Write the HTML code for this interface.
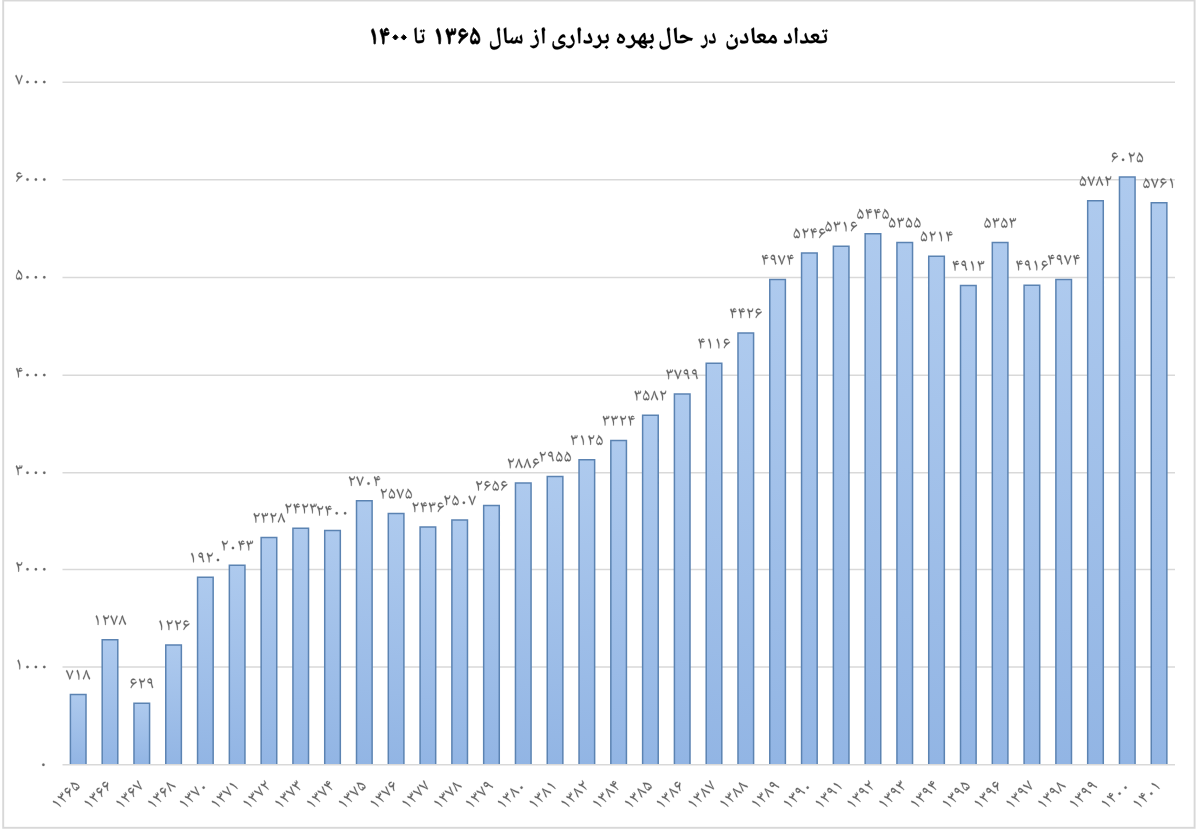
<!DOCTYPE html><html><head><meta charset="utf-8"><title>chart</title><style>html,body{margin:0;padding:0;background:#fff;width:1200px;height:833px;overflow:hidden;font-family:"Liberation Sans",sans-serif}svg{display:block}</style></head><body>
<svg width="1200" height="833" viewBox="0 0 1200 833">
<defs>
<linearGradient id="bf" x1="0" y1="0" x2="0" y2="1"><stop offset="0" stop-color="#aecaee"/><stop offset="1" stop-color="#92b5e4"/></linearGradient>
<path id="g0" d="M152.5 145A72 72 0 1 0 296.5 145A72 72 0 1 0 152.5 145Z"/>
<path id="g1" d="M281 0 243 9Q242 78 238 128Q235 179 227 222Q219 266 204 313Q194 349 178 387Q161 425 140 466Q132 479 132 495Q132 515 146 534Q161 553 186 568Q219 509 244 442Q268 374 282 309Q295 244 295 191Q295 142 292 94Q288 47 281 0Z"/>
<path id="g2" d="M216 0 178 9Q177 103 169 172Q161 240 145 296Q132 341 115 382Q98 423 75 466Q67 482 67 495Q67 515 82 535Q96 555 121 568Q136 542 148 516Q161 490 171 461Q210 437 268 437Q312 437 336 470Q361 502 367 567L407 559Q407 501 396 460Q386 418 364 392Q347 373 323 363Q299 353 269 353Q230 353 203 365Q212 329 218 298Q224 266 227 240Q230 213 230 191Q230 160 229 134Q228 107 225 76Q222 45 216 0Z"/>
<path id="g3" d="M187 0 149 9Q149 74 146 122Q142 169 134 212Q126 255 112 303Q105 327 96 353Q86 379 74 408Q61 436 46 466Q38 479 38 495Q38 515 52 534Q66 553 92 568Q106 541 120 512Q133 484 144 455Q168 437 200 437Q256 437 256 512Q256 523 256 534Q255 546 253 558L283 568Q291 542 294 520Q297 497 297 474Q305 471 312 470Q320 468 326 468Q370 468 370 538Q370 547 370 554Q369 562 368 566L409 562Q411 546 412 533Q413 520 413 509Q413 454 388 420Q364 385 327 385Q303 385 279 399Q269 379 251 366Q233 353 209 353Q202 353 193 354Q184 356 173 360Q186 313 192 270Q199 228 199 191Q199 142 196 94Q193 47 187 0Z"/>
<path id="g4" d="M202 0 164 9Q163 98 157 156Q151 214 138 263Q131 296 122 326Q112 355 98 388Q83 422 61 466Q53 481 53 496Q53 538 107 568Q126 534 142 499Q157 464 169 428Q181 421 196 417Q210 413 226 411Q202 429 202 460Q202 486 216 514Q230 542 252 559Q277 576 302 576Q343 576 389 511L366 488Q334 510 304 510Q291 510 279 506Q267 501 248 491Q248 459 269 441Q290 423 330 419Q350 425 370 433Q390 441 409 451Q415 433 415 419Q415 394 394 376Q374 357 340 348Q307 338 267 338Q230 338 192 350Q215 256 215 192Q215 146 212 98Q209 50 202 0Z"/>
<path id="g5" d="M159 7Q106 7 76 52Q47 97 47 178Q47 222 60 270Q73 319 100 371Q106 384 112 394Q118 404 129 422Q140 440 161 475Q154 488 154 511Q154 531 159 550Q164 569 174 585Q241 524 283 478Q325 432 349 394Q373 356 387 317Q407 257 407 190Q407 141 394 98Q380 56 355 31Q330 7 298 7Q277 7 258 16Q240 26 226 44Q213 26 196 16Q179 7 159 7ZM156 92Q180 92 194 110Q207 128 210 165L246 184Q246 141 260 116Q274 92 305 92Q331 92 349 114Q367 135 367 165Q367 200 346 246Q326 291 290 340Q253 390 203 436Q170 398 144 353Q117 308 102 264Q86 219 86 181Q86 146 106 119Q126 92 156 92Z"/>
<path id="g6" d="M89 0 60 48Q80 86 94 112Q109 139 122 160Q136 182 152 204Q169 225 191 252Q136 266 102 300Q68 335 68 378Q68 425 86 470Q105 514 137 540Q170 567 210 567Q244 567 275 551Q306 535 354 494L336 459Q306 471 290 476Q273 481 262 482Q251 483 236 483Q170 483 121 448Q121 373 185 345Q221 329 273 328Q291 341 311 352Q331 364 354 376Q377 387 403 399Q407 394 410 379Q414 364 414 355Q414 346 408 336Q401 325 388 314Q375 302 356 289Q311 259 276 231Q240 203 210 172Q181 140 152 98Q122 57 89 0Z"/>
<path id="g7" d="M204 0Q183 70 166 123Q149 176 132 219Q116 262 99 300Q82 339 62 380Q41 420 15 468Q9 479 9 490Q9 509 22 530Q36 550 58 566Q81 531 107 475Q133 419 158 354Q183 288 203 224Q223 159 233 108Q244 168 261 232Q278 297 299 360Q320 422 342 476Q364 529 385 566L427 494Q386 411 356 338Q325 264 302 192Q279 120 258 40Q242 27 228 18Q215 8 204 0Z"/>
<path id="g8" d="M51 0 8 71Q41 136 66 192Q90 247 110 300Q129 353 146 408Q162 463 178 526L232 566Q251 500 268 448Q285 396 302 352Q318 309 336 270Q353 230 374 188Q395 147 422 98Q427 86 427 76Q427 57 414 37Q401 17 378 0Q357 32 332 82Q308 133 285 192Q262 252 242 312Q229 352 219 390Q209 427 203 458Q192 396 175 332Q158 268 138 207Q117 146 95 93Q73 40 51 0Z"/>
<path id="g9" d="M345 -1Q321 62 306 111Q292 160 284 204Q277 248 275 294Q236 280 202 280Q144 280 106 318Q67 357 67 417Q67 454 88 495Q110 536 142 561Q174 585 208 585Q265 585 295 535Q325 485 325 375Q325 322 334 270Q342 219 360 168Q377 116 404 62ZM230 364Q239 364 250 366Q260 367 272 369L273 370Q267 434 244 466Q222 498 183 498Q166 498 149 488Q132 478 121 462Q110 447 110 430Q110 402 144 383Q177 364 230 364Z"/>
</defs>
<rect width="1200" height="833" fill="#fff"/>
<rect x="3.2" y="0.5" width="1191.4" height="827.3" fill="none" stroke="#d8d8d8" stroke-width="1.9"/>
<path d="M62.5 82.2H1175M62.5 179.65H1175M62.5 277.46H1175M62.5 375.2H1175M62.5 472.75H1175M62.5 569.4H1175M62.5 667H1175M62.5 764.85H1175" stroke="#d9d9d9" stroke-width="1.5" fill="none"/>
<g fill="url(#bf)"><rect x="70.4" y="694.46" width="15.6" height="69.54"/><rect x="102.19" y="639.87" width="15.6" height="124.13"/><rect x="133.98" y="703.13" width="15.6" height="60.87"/><rect x="165.77" y="644.93" width="15.6" height="119.07"/><rect x="197.56" y="577.28" width="15.6" height="186.72"/><rect x="229.35" y="565.29" width="15.6" height="198.71"/><rect x="261.14" y="537.51" width="15.6" height="226.49"/><rect x="292.93" y="528.25" width="15.6" height="235.75"/><rect x="324.72" y="530.49" width="15.6" height="233.51"/><rect x="356.51" y="500.85" width="15.6" height="263.15"/><rect x="388.3" y="513.43" width="15.6" height="250.57"/><rect x="420.09" y="526.98" width="15.6" height="237.02"/><rect x="451.88" y="520.06" width="15.6" height="243.94"/><rect x="483.67" y="505.53" width="15.6" height="258.47"/><rect x="515.46" y="483.11" width="15.6" height="280.89"/><rect x="547.25" y="476.38" width="15.6" height="287.62"/><rect x="579.04" y="459.81" width="15.6" height="304.19"/><rect x="610.83" y="440.41" width="15.6" height="323.59"/><rect x="642.62" y="415.26" width="15.6" height="348.74"/><rect x="674.41" y="394.11" width="15.6" height="369.89"/><rect x="706.2" y="363.21" width="15.6" height="400.79"/><rect x="737.99" y="332.99" width="15.6" height="431.01"/><rect x="769.78" y="279.56" width="15.6" height="484.44"/><rect x="801.57" y="253.05" width="15.6" height="510.95"/><rect x="833.36" y="246.23" width="15.6" height="517.77"/><rect x="865.15" y="233.65" width="15.6" height="530.35"/><rect x="896.94" y="242.42" width="15.6" height="521.58"/><rect x="928.73" y="256.17" width="15.6" height="507.83"/><rect x="960.52" y="285.51" width="15.6" height="478.49"/><rect x="992.31" y="242.62" width="15.6" height="521.38"/><rect x="1024.1" y="285.22" width="15.6" height="478.78"/><rect x="1055.89" y="279.56" width="15.6" height="484.44"/><rect x="1087.68" y="200.8" width="15.6" height="563.2"/><rect x="1119.47" y="177.11" width="15.6" height="586.89"/><rect x="1151.26" y="202.84" width="15.6" height="561.16"/></g>
<path d="M70.4 764V694.46H86V764M102.19 764V639.87H117.79V764M133.98 764V703.13H149.58V764M165.77 764V644.93H181.37V764M197.56 764V577.28H213.16V764M229.35 764V565.29H244.95V764M261.14 764V537.51H276.74V764M292.93 764V528.25H308.53V764M324.72 764V530.49H340.32V764M356.51 764V500.85H372.11V764M388.3 764V513.43H403.9V764M420.09 764V526.98H435.69V764M451.88 764V520.06H467.48V764M483.67 764V505.53H499.27V764M515.46 764V483.11H531.06V764M547.25 764V476.38H562.85V764M579.04 764V459.81H594.64V764M610.83 764V440.41H626.43V764M642.62 764V415.26H658.22V764M674.41 764V394.11H690.01V764M706.2 764V363.21H721.8V764M737.99 764V332.99H753.59V764M769.78 764V279.56H785.38V764M801.57 764V253.05H817.17V764M833.36 764V246.23H848.96V764M865.15 764V233.65H880.75V764M896.94 764V242.42H912.54V764M928.73 764V256.17H944.33V764M960.52 764V285.51H976.12V764M992.31 764V242.62H1007.91V764M1024.1 764V285.22H1039.7V764M1055.89 764V279.56H1071.49V764M1087.68 764V200.8H1103.28V764M1119.47 764V177.11H1135.07V764M1151.26 764V202.84H1166.86V764" fill="none" stroke="#5b83b2" stroke-width="1.5"/>
<g fill="#666666" stroke="#666666" stroke-width="12"><use href="#g7" transform="translate(65.93 679.66) scale(0.01725 -0.01725)"/><use href="#g1" transform="translate(74.33 679.66) scale(0.01725 -0.01725)"/><use href="#g8" transform="translate(82.73 679.66) scale(0.01725 -0.01725)"/><use href="#g1" transform="translate(93.52 625.07) scale(0.01725 -0.01725)"/><use href="#g2" transform="translate(101.92 625.07) scale(0.01725 -0.01725)"/><use href="#g7" transform="translate(110.32 625.07) scale(0.01725 -0.01725)"/><use href="#g8" transform="translate(118.72 625.07) scale(0.01725 -0.01725)"/><use href="#g6" transform="translate(129.51 688.33) scale(0.01725 -0.01725)"/><use href="#g2" transform="translate(137.91 688.33) scale(0.01725 -0.01725)"/><use href="#g9" transform="translate(146.31 688.33) scale(0.01725 -0.01725)"/><use href="#g1" transform="translate(157.1 630.13) scale(0.01725 -0.01725)"/><use href="#g2" transform="translate(165.5 630.13) scale(0.01725 -0.01725)"/><use href="#g2" transform="translate(173.9 630.13) scale(0.01725 -0.01725)"/><use href="#g6" transform="translate(182.3 630.13) scale(0.01725 -0.01725)"/><use href="#g1" transform="translate(188.89 562.48) scale(0.01725 -0.01725)"/><use href="#g9" transform="translate(197.29 562.48) scale(0.01725 -0.01725)"/><use href="#g2" transform="translate(205.69 562.48) scale(0.01725 -0.01725)"/><use href="#g0" transform="translate(214.09 562.48) scale(0.01725 -0.01725)"/><use href="#g2" transform="translate(220.68 550.49) scale(0.01725 -0.01725)"/><use href="#g0" transform="translate(229.08 550.49) scale(0.01725 -0.01725)"/><use href="#g4" transform="translate(237.48 550.49) scale(0.01725 -0.01725)"/><use href="#g3" transform="translate(245.88 550.49) scale(0.01725 -0.01725)"/><use href="#g2" transform="translate(252.47 522.71) scale(0.01725 -0.01725)"/><use href="#g3" transform="translate(260.87 522.71) scale(0.01725 -0.01725)"/><use href="#g2" transform="translate(269.27 522.71) scale(0.01725 -0.01725)"/><use href="#g8" transform="translate(277.67 522.71) scale(0.01725 -0.01725)"/><use href="#g2" transform="translate(284.26 513.45) scale(0.01725 -0.01725)"/><use href="#g4" transform="translate(292.66 513.45) scale(0.01725 -0.01725)"/><use href="#g2" transform="translate(301.06 513.45) scale(0.01725 -0.01725)"/><use href="#g3" transform="translate(309.46 513.45) scale(0.01725 -0.01725)"/><use href="#g2" transform="translate(316.05 515.69) scale(0.01725 -0.01725)"/><use href="#g4" transform="translate(324.45 515.69) scale(0.01725 -0.01725)"/><use href="#g0" transform="translate(332.85 515.69) scale(0.01725 -0.01725)"/><use href="#g0" transform="translate(341.25 515.69) scale(0.01725 -0.01725)"/><use href="#g2" transform="translate(347.84 486.05) scale(0.01725 -0.01725)"/><use href="#g7" transform="translate(356.24 486.05) scale(0.01725 -0.01725)"/><use href="#g0" transform="translate(364.64 486.05) scale(0.01725 -0.01725)"/><use href="#g4" transform="translate(373.04 486.05) scale(0.01725 -0.01725)"/><use href="#g2" transform="translate(379.63 498.63) scale(0.01725 -0.01725)"/><use href="#g5" transform="translate(388.03 498.63) scale(0.01725 -0.01725)"/><use href="#g7" transform="translate(396.43 498.63) scale(0.01725 -0.01725)"/><use href="#g5" transform="translate(404.83 498.63) scale(0.01725 -0.01725)"/><use href="#g2" transform="translate(411.42 512.18) scale(0.01725 -0.01725)"/><use href="#g4" transform="translate(419.82 512.18) scale(0.01725 -0.01725)"/><use href="#g3" transform="translate(428.22 512.18) scale(0.01725 -0.01725)"/><use href="#g6" transform="translate(436.62 512.18) scale(0.01725 -0.01725)"/><use href="#g2" transform="translate(443.21 505.26) scale(0.01725 -0.01725)"/><use href="#g5" transform="translate(451.61 505.26) scale(0.01725 -0.01725)"/><use href="#g0" transform="translate(460.01 505.26) scale(0.01725 -0.01725)"/><use href="#g7" transform="translate(468.41 505.26) scale(0.01725 -0.01725)"/><use href="#g2" transform="translate(475 490.73) scale(0.01725 -0.01725)"/><use href="#g6" transform="translate(483.4 490.73) scale(0.01725 -0.01725)"/><use href="#g5" transform="translate(491.8 490.73) scale(0.01725 -0.01725)"/><use href="#g6" transform="translate(500.2 490.73) scale(0.01725 -0.01725)"/><use href="#g2" transform="translate(506.79 468.31) scale(0.01725 -0.01725)"/><use href="#g8" transform="translate(515.19 468.31) scale(0.01725 -0.01725)"/><use href="#g8" transform="translate(523.59 468.31) scale(0.01725 -0.01725)"/><use href="#g6" transform="translate(531.99 468.31) scale(0.01725 -0.01725)"/><use href="#g2" transform="translate(538.58 461.58) scale(0.01725 -0.01725)"/><use href="#g9" transform="translate(546.98 461.58) scale(0.01725 -0.01725)"/><use href="#g5" transform="translate(555.38 461.58) scale(0.01725 -0.01725)"/><use href="#g5" transform="translate(563.78 461.58) scale(0.01725 -0.01725)"/><use href="#g3" transform="translate(570.37 445.01) scale(0.01725 -0.01725)"/><use href="#g1" transform="translate(578.77 445.01) scale(0.01725 -0.01725)"/><use href="#g2" transform="translate(587.17 445.01) scale(0.01725 -0.01725)"/><use href="#g5" transform="translate(595.57 445.01) scale(0.01725 -0.01725)"/><use href="#g3" transform="translate(602.16 425.61) scale(0.01725 -0.01725)"/><use href="#g3" transform="translate(610.56 425.61) scale(0.01725 -0.01725)"/><use href="#g2" transform="translate(618.96 425.61) scale(0.01725 -0.01725)"/><use href="#g4" transform="translate(627.36 425.61) scale(0.01725 -0.01725)"/><use href="#g3" transform="translate(633.95 400.46) scale(0.01725 -0.01725)"/><use href="#g5" transform="translate(642.35 400.46) scale(0.01725 -0.01725)"/><use href="#g8" transform="translate(650.75 400.46) scale(0.01725 -0.01725)"/><use href="#g2" transform="translate(659.15 400.46) scale(0.01725 -0.01725)"/><use href="#g3" transform="translate(665.74 379.31) scale(0.01725 -0.01725)"/><use href="#g7" transform="translate(674.14 379.31) scale(0.01725 -0.01725)"/><use href="#g9" transform="translate(682.54 379.31) scale(0.01725 -0.01725)"/><use href="#g9" transform="translate(690.94 379.31) scale(0.01725 -0.01725)"/><use href="#g4" transform="translate(697.53 348.41) scale(0.01725 -0.01725)"/><use href="#g1" transform="translate(705.93 348.41) scale(0.01725 -0.01725)"/><use href="#g1" transform="translate(714.33 348.41) scale(0.01725 -0.01725)"/><use href="#g6" transform="translate(722.73 348.41) scale(0.01725 -0.01725)"/><use href="#g4" transform="translate(729.32 318.19) scale(0.01725 -0.01725)"/><use href="#g4" transform="translate(737.72 318.19) scale(0.01725 -0.01725)"/><use href="#g2" transform="translate(746.12 318.19) scale(0.01725 -0.01725)"/><use href="#g6" transform="translate(754.52 318.19) scale(0.01725 -0.01725)"/><use href="#g4" transform="translate(761.11 264.76) scale(0.01725 -0.01725)"/><use href="#g9" transform="translate(769.51 264.76) scale(0.01725 -0.01725)"/><use href="#g7" transform="translate(777.91 264.76) scale(0.01725 -0.01725)"/><use href="#g4" transform="translate(786.31 264.76) scale(0.01725 -0.01725)"/><use href="#g5" transform="translate(792.9 238.25) scale(0.01725 -0.01725)"/><use href="#g2" transform="translate(801.3 238.25) scale(0.01725 -0.01725)"/><use href="#g4" transform="translate(809.7 238.25) scale(0.01725 -0.01725)"/><use href="#g6" transform="translate(818.1 238.25) scale(0.01725 -0.01725)"/><use href="#g5" transform="translate(824.69 231.43) scale(0.01725 -0.01725)"/><use href="#g3" transform="translate(833.09 231.43) scale(0.01725 -0.01725)"/><use href="#g1" transform="translate(841.49 231.43) scale(0.01725 -0.01725)"/><use href="#g6" transform="translate(849.89 231.43) scale(0.01725 -0.01725)"/><use href="#g5" transform="translate(856.48 218.85) scale(0.01725 -0.01725)"/><use href="#g4" transform="translate(864.88 218.85) scale(0.01725 -0.01725)"/><use href="#g4" transform="translate(873.28 218.85) scale(0.01725 -0.01725)"/><use href="#g5" transform="translate(881.68 218.85) scale(0.01725 -0.01725)"/><use href="#g5" transform="translate(888.27 227.62) scale(0.01725 -0.01725)"/><use href="#g3" transform="translate(896.67 227.62) scale(0.01725 -0.01725)"/><use href="#g5" transform="translate(905.07 227.62) scale(0.01725 -0.01725)"/><use href="#g5" transform="translate(913.47 227.62) scale(0.01725 -0.01725)"/><use href="#g5" transform="translate(920.06 241.37) scale(0.01725 -0.01725)"/><use href="#g2" transform="translate(928.46 241.37) scale(0.01725 -0.01725)"/><use href="#g1" transform="translate(936.86 241.37) scale(0.01725 -0.01725)"/><use href="#g4" transform="translate(945.26 241.37) scale(0.01725 -0.01725)"/><use href="#g4" transform="translate(951.85 270.71) scale(0.01725 -0.01725)"/><use href="#g9" transform="translate(960.25 270.71) scale(0.01725 -0.01725)"/><use href="#g1" transform="translate(968.65 270.71) scale(0.01725 -0.01725)"/><use href="#g3" transform="translate(977.05 270.71) scale(0.01725 -0.01725)"/><use href="#g5" transform="translate(983.64 227.82) scale(0.01725 -0.01725)"/><use href="#g3" transform="translate(992.04 227.82) scale(0.01725 -0.01725)"/><use href="#g5" transform="translate(1000.44 227.82) scale(0.01725 -0.01725)"/><use href="#g3" transform="translate(1008.84 227.82) scale(0.01725 -0.01725)"/><use href="#g4" transform="translate(1015.43 270.42) scale(0.01725 -0.01725)"/><use href="#g9" transform="translate(1023.83 270.42) scale(0.01725 -0.01725)"/><use href="#g1" transform="translate(1032.23 270.42) scale(0.01725 -0.01725)"/><use href="#g6" transform="translate(1040.63 270.42) scale(0.01725 -0.01725)"/><use href="#g4" transform="translate(1047.22 264.76) scale(0.01725 -0.01725)"/><use href="#g9" transform="translate(1055.62 264.76) scale(0.01725 -0.01725)"/><use href="#g7" transform="translate(1064.02 264.76) scale(0.01725 -0.01725)"/><use href="#g4" transform="translate(1072.42 264.76) scale(0.01725 -0.01725)"/><use href="#g5" transform="translate(1079.01 186) scale(0.01725 -0.01725)"/><use href="#g7" transform="translate(1087.41 186) scale(0.01725 -0.01725)"/><use href="#g8" transform="translate(1095.81 186) scale(0.01725 -0.01725)"/><use href="#g2" transform="translate(1104.21 186) scale(0.01725 -0.01725)"/><use href="#g6" transform="translate(1110.8 162.31) scale(0.01725 -0.01725)"/><use href="#g0" transform="translate(1119.2 162.31) scale(0.01725 -0.01725)"/><use href="#g2" transform="translate(1127.6 162.31) scale(0.01725 -0.01725)"/><use href="#g5" transform="translate(1136 162.31) scale(0.01725 -0.01725)"/><use href="#g5" transform="translate(1142.59 188.04) scale(0.01725 -0.01725)"/><use href="#g7" transform="translate(1150.99 188.04) scale(0.01725 -0.01725)"/><use href="#g6" transform="translate(1159.39 188.04) scale(0.01725 -0.01725)"/><use href="#g1" transform="translate(1167.79 188.04) scale(0.01725 -0.01725)"/><use href="#g7" transform="translate(15.23 84.6) scale(0.01725 -0.01725)"/><use href="#g0" transform="translate(23.63 84.6) scale(0.01725 -0.01725)"/><use href="#g0" transform="translate(32.03 84.6) scale(0.01725 -0.01725)"/><use href="#g0" transform="translate(40.43 84.6) scale(0.01725 -0.01725)"/><use href="#g6" transform="translate(15.23 182.05) scale(0.01725 -0.01725)"/><use href="#g0" transform="translate(23.63 182.05) scale(0.01725 -0.01725)"/><use href="#g0" transform="translate(32.03 182.05) scale(0.01725 -0.01725)"/><use href="#g0" transform="translate(40.43 182.05) scale(0.01725 -0.01725)"/><use href="#g5" transform="translate(15.23 279.86) scale(0.01725 -0.01725)"/><use href="#g0" transform="translate(23.63 279.86) scale(0.01725 -0.01725)"/><use href="#g0" transform="translate(32.03 279.86) scale(0.01725 -0.01725)"/><use href="#g0" transform="translate(40.43 279.86) scale(0.01725 -0.01725)"/><use href="#g4" transform="translate(15.23 377.6) scale(0.01725 -0.01725)"/><use href="#g0" transform="translate(23.63 377.6) scale(0.01725 -0.01725)"/><use href="#g0" transform="translate(32.03 377.6) scale(0.01725 -0.01725)"/><use href="#g0" transform="translate(40.43 377.6) scale(0.01725 -0.01725)"/><use href="#g3" transform="translate(15.23 475.15) scale(0.01725 -0.01725)"/><use href="#g0" transform="translate(23.63 475.15) scale(0.01725 -0.01725)"/><use href="#g0" transform="translate(32.03 475.15) scale(0.01725 -0.01725)"/><use href="#g0" transform="translate(40.43 475.15) scale(0.01725 -0.01725)"/><use href="#g2" transform="translate(15.23 571.8) scale(0.01725 -0.01725)"/><use href="#g0" transform="translate(23.63 571.8) scale(0.01725 -0.01725)"/><use href="#g0" transform="translate(32.03 571.8) scale(0.01725 -0.01725)"/><use href="#g0" transform="translate(40.43 571.8) scale(0.01725 -0.01725)"/><use href="#g1" transform="translate(15.23 669.4) scale(0.01725 -0.01725)"/><use href="#g0" transform="translate(23.63 669.4) scale(0.01725 -0.01725)"/><use href="#g0" transform="translate(32.03 669.4) scale(0.01725 -0.01725)"/><use href="#g0" transform="translate(40.43 669.4) scale(0.01725 -0.01725)"/><use href="#g0" transform="translate(39.53 767.25) scale(0.01725 -0.01725)"/><g transform="translate(81.2 786.4) rotate(-45)"><use href="#g1" transform="translate(-33.27 0) scale(0.01725 -0.01725)"/><use href="#g3" transform="translate(-24.87 0) scale(0.01725 -0.01725)"/><use href="#g6" transform="translate(-16.47 0) scale(0.01725 -0.01725)"/><use href="#g5" transform="translate(-8.07 0) scale(0.01725 -0.01725)"/></g><g transform="translate(112.99 786.4) rotate(-45)"><use href="#g1" transform="translate(-33.27 0) scale(0.01725 -0.01725)"/><use href="#g3" transform="translate(-24.87 0) scale(0.01725 -0.01725)"/><use href="#g6" transform="translate(-16.47 0) scale(0.01725 -0.01725)"/><use href="#g6" transform="translate(-8.07 0) scale(0.01725 -0.01725)"/></g><g transform="translate(144.78 786.4) rotate(-45)"><use href="#g1" transform="translate(-33.27 0) scale(0.01725 -0.01725)"/><use href="#g3" transform="translate(-24.87 0) scale(0.01725 -0.01725)"/><use href="#g6" transform="translate(-16.47 0) scale(0.01725 -0.01725)"/><use href="#g7" transform="translate(-8.07 0) scale(0.01725 -0.01725)"/></g><g transform="translate(176.57 786.4) rotate(-45)"><use href="#g1" transform="translate(-33.27 0) scale(0.01725 -0.01725)"/><use href="#g3" transform="translate(-24.87 0) scale(0.01725 -0.01725)"/><use href="#g6" transform="translate(-16.47 0) scale(0.01725 -0.01725)"/><use href="#g8" transform="translate(-8.07 0) scale(0.01725 -0.01725)"/></g><g transform="translate(208.36 786.4) rotate(-45)"><use href="#g1" transform="translate(-33.27 0) scale(0.01725 -0.01725)"/><use href="#g3" transform="translate(-24.87 0) scale(0.01725 -0.01725)"/><use href="#g7" transform="translate(-16.47 0) scale(0.01725 -0.01725)"/><use href="#g0" transform="translate(-8.07 0) scale(0.01725 -0.01725)"/></g><g transform="translate(240.15 786.4) rotate(-45)"><use href="#g1" transform="translate(-33.27 0) scale(0.01725 -0.01725)"/><use href="#g3" transform="translate(-24.87 0) scale(0.01725 -0.01725)"/><use href="#g7" transform="translate(-16.47 0) scale(0.01725 -0.01725)"/><use href="#g1" transform="translate(-8.07 0) scale(0.01725 -0.01725)"/></g><g transform="translate(271.94 786.4) rotate(-45)"><use href="#g1" transform="translate(-33.27 0) scale(0.01725 -0.01725)"/><use href="#g3" transform="translate(-24.87 0) scale(0.01725 -0.01725)"/><use href="#g7" transform="translate(-16.47 0) scale(0.01725 -0.01725)"/><use href="#g2" transform="translate(-8.07 0) scale(0.01725 -0.01725)"/></g><g transform="translate(303.73 786.4) rotate(-45)"><use href="#g1" transform="translate(-33.27 0) scale(0.01725 -0.01725)"/><use href="#g3" transform="translate(-24.87 0) scale(0.01725 -0.01725)"/><use href="#g7" transform="translate(-16.47 0) scale(0.01725 -0.01725)"/><use href="#g3" transform="translate(-8.07 0) scale(0.01725 -0.01725)"/></g><g transform="translate(335.52 786.4) rotate(-45)"><use href="#g1" transform="translate(-33.27 0) scale(0.01725 -0.01725)"/><use href="#g3" transform="translate(-24.87 0) scale(0.01725 -0.01725)"/><use href="#g7" transform="translate(-16.47 0) scale(0.01725 -0.01725)"/><use href="#g4" transform="translate(-8.07 0) scale(0.01725 -0.01725)"/></g><g transform="translate(367.31 786.4) rotate(-45)"><use href="#g1" transform="translate(-33.27 0) scale(0.01725 -0.01725)"/><use href="#g3" transform="translate(-24.87 0) scale(0.01725 -0.01725)"/><use href="#g7" transform="translate(-16.47 0) scale(0.01725 -0.01725)"/><use href="#g5" transform="translate(-8.07 0) scale(0.01725 -0.01725)"/></g><g transform="translate(399.1 786.4) rotate(-45)"><use href="#g1" transform="translate(-33.27 0) scale(0.01725 -0.01725)"/><use href="#g3" transform="translate(-24.87 0) scale(0.01725 -0.01725)"/><use href="#g7" transform="translate(-16.47 0) scale(0.01725 -0.01725)"/><use href="#g6" transform="translate(-8.07 0) scale(0.01725 -0.01725)"/></g><g transform="translate(430.89 786.4) rotate(-45)"><use href="#g1" transform="translate(-33.27 0) scale(0.01725 -0.01725)"/><use href="#g3" transform="translate(-24.87 0) scale(0.01725 -0.01725)"/><use href="#g7" transform="translate(-16.47 0) scale(0.01725 -0.01725)"/><use href="#g7" transform="translate(-8.07 0) scale(0.01725 -0.01725)"/></g><g transform="translate(462.68 786.4) rotate(-45)"><use href="#g1" transform="translate(-33.27 0) scale(0.01725 -0.01725)"/><use href="#g3" transform="translate(-24.87 0) scale(0.01725 -0.01725)"/><use href="#g7" transform="translate(-16.47 0) scale(0.01725 -0.01725)"/><use href="#g8" transform="translate(-8.07 0) scale(0.01725 -0.01725)"/></g><g transform="translate(494.47 786.4) rotate(-45)"><use href="#g1" transform="translate(-33.27 0) scale(0.01725 -0.01725)"/><use href="#g3" transform="translate(-24.87 0) scale(0.01725 -0.01725)"/><use href="#g7" transform="translate(-16.47 0) scale(0.01725 -0.01725)"/><use href="#g9" transform="translate(-8.07 0) scale(0.01725 -0.01725)"/></g><g transform="translate(526.26 786.4) rotate(-45)"><use href="#g1" transform="translate(-33.27 0) scale(0.01725 -0.01725)"/><use href="#g3" transform="translate(-24.87 0) scale(0.01725 -0.01725)"/><use href="#g8" transform="translate(-16.47 0) scale(0.01725 -0.01725)"/><use href="#g0" transform="translate(-8.07 0) scale(0.01725 -0.01725)"/></g><g transform="translate(558.05 786.4) rotate(-45)"><use href="#g1" transform="translate(-33.27 0) scale(0.01725 -0.01725)"/><use href="#g3" transform="translate(-24.87 0) scale(0.01725 -0.01725)"/><use href="#g8" transform="translate(-16.47 0) scale(0.01725 -0.01725)"/><use href="#g1" transform="translate(-8.07 0) scale(0.01725 -0.01725)"/></g><g transform="translate(589.84 786.4) rotate(-45)"><use href="#g1" transform="translate(-33.27 0) scale(0.01725 -0.01725)"/><use href="#g3" transform="translate(-24.87 0) scale(0.01725 -0.01725)"/><use href="#g8" transform="translate(-16.47 0) scale(0.01725 -0.01725)"/><use href="#g2" transform="translate(-8.07 0) scale(0.01725 -0.01725)"/></g><g transform="translate(621.63 786.4) rotate(-45)"><use href="#g1" transform="translate(-33.27 0) scale(0.01725 -0.01725)"/><use href="#g3" transform="translate(-24.87 0) scale(0.01725 -0.01725)"/><use href="#g8" transform="translate(-16.47 0) scale(0.01725 -0.01725)"/><use href="#g4" transform="translate(-8.07 0) scale(0.01725 -0.01725)"/></g><g transform="translate(653.42 786.4) rotate(-45)"><use href="#g1" transform="translate(-33.27 0) scale(0.01725 -0.01725)"/><use href="#g3" transform="translate(-24.87 0) scale(0.01725 -0.01725)"/><use href="#g8" transform="translate(-16.47 0) scale(0.01725 -0.01725)"/><use href="#g5" transform="translate(-8.07 0) scale(0.01725 -0.01725)"/></g><g transform="translate(685.21 786.4) rotate(-45)"><use href="#g1" transform="translate(-33.27 0) scale(0.01725 -0.01725)"/><use href="#g3" transform="translate(-24.87 0) scale(0.01725 -0.01725)"/><use href="#g8" transform="translate(-16.47 0) scale(0.01725 -0.01725)"/><use href="#g6" transform="translate(-8.07 0) scale(0.01725 -0.01725)"/></g><g transform="translate(717 786.4) rotate(-45)"><use href="#g1" transform="translate(-33.27 0) scale(0.01725 -0.01725)"/><use href="#g3" transform="translate(-24.87 0) scale(0.01725 -0.01725)"/><use href="#g8" transform="translate(-16.47 0) scale(0.01725 -0.01725)"/><use href="#g7" transform="translate(-8.07 0) scale(0.01725 -0.01725)"/></g><g transform="translate(748.79 786.4) rotate(-45)"><use href="#g1" transform="translate(-33.27 0) scale(0.01725 -0.01725)"/><use href="#g3" transform="translate(-24.87 0) scale(0.01725 -0.01725)"/><use href="#g8" transform="translate(-16.47 0) scale(0.01725 -0.01725)"/><use href="#g8" transform="translate(-8.07 0) scale(0.01725 -0.01725)"/></g><g transform="translate(780.58 786.4) rotate(-45)"><use href="#g1" transform="translate(-33.27 0) scale(0.01725 -0.01725)"/><use href="#g3" transform="translate(-24.87 0) scale(0.01725 -0.01725)"/><use href="#g8" transform="translate(-16.47 0) scale(0.01725 -0.01725)"/><use href="#g9" transform="translate(-8.07 0) scale(0.01725 -0.01725)"/></g><g transform="translate(812.37 786.4) rotate(-45)"><use href="#g1" transform="translate(-33.27 0) scale(0.01725 -0.01725)"/><use href="#g3" transform="translate(-24.87 0) scale(0.01725 -0.01725)"/><use href="#g9" transform="translate(-16.47 0) scale(0.01725 -0.01725)"/><use href="#g0" transform="translate(-8.07 0) scale(0.01725 -0.01725)"/></g><g transform="translate(844.16 786.4) rotate(-45)"><use href="#g1" transform="translate(-33.27 0) scale(0.01725 -0.01725)"/><use href="#g3" transform="translate(-24.87 0) scale(0.01725 -0.01725)"/><use href="#g9" transform="translate(-16.47 0) scale(0.01725 -0.01725)"/><use href="#g1" transform="translate(-8.07 0) scale(0.01725 -0.01725)"/></g><g transform="translate(875.95 786.4) rotate(-45)"><use href="#g1" transform="translate(-33.27 0) scale(0.01725 -0.01725)"/><use href="#g3" transform="translate(-24.87 0) scale(0.01725 -0.01725)"/><use href="#g9" transform="translate(-16.47 0) scale(0.01725 -0.01725)"/><use href="#g2" transform="translate(-8.07 0) scale(0.01725 -0.01725)"/></g><g transform="translate(907.74 786.4) rotate(-45)"><use href="#g1" transform="translate(-33.27 0) scale(0.01725 -0.01725)"/><use href="#g3" transform="translate(-24.87 0) scale(0.01725 -0.01725)"/><use href="#g9" transform="translate(-16.47 0) scale(0.01725 -0.01725)"/><use href="#g3" transform="translate(-8.07 0) scale(0.01725 -0.01725)"/></g><g transform="translate(939.53 786.4) rotate(-45)"><use href="#g1" transform="translate(-33.27 0) scale(0.01725 -0.01725)"/><use href="#g3" transform="translate(-24.87 0) scale(0.01725 -0.01725)"/><use href="#g9" transform="translate(-16.47 0) scale(0.01725 -0.01725)"/><use href="#g4" transform="translate(-8.07 0) scale(0.01725 -0.01725)"/></g><g transform="translate(971.32 786.4) rotate(-45)"><use href="#g1" transform="translate(-33.27 0) scale(0.01725 -0.01725)"/><use href="#g3" transform="translate(-24.87 0) scale(0.01725 -0.01725)"/><use href="#g9" transform="translate(-16.47 0) scale(0.01725 -0.01725)"/><use href="#g5" transform="translate(-8.07 0) scale(0.01725 -0.01725)"/></g><g transform="translate(1003.11 786.4) rotate(-45)"><use href="#g1" transform="translate(-33.27 0) scale(0.01725 -0.01725)"/><use href="#g3" transform="translate(-24.87 0) scale(0.01725 -0.01725)"/><use href="#g9" transform="translate(-16.47 0) scale(0.01725 -0.01725)"/><use href="#g6" transform="translate(-8.07 0) scale(0.01725 -0.01725)"/></g><g transform="translate(1034.9 786.4) rotate(-45)"><use href="#g1" transform="translate(-33.27 0) scale(0.01725 -0.01725)"/><use href="#g3" transform="translate(-24.87 0) scale(0.01725 -0.01725)"/><use href="#g9" transform="translate(-16.47 0) scale(0.01725 -0.01725)"/><use href="#g7" transform="translate(-8.07 0) scale(0.01725 -0.01725)"/></g><g transform="translate(1066.69 786.4) rotate(-45)"><use href="#g1" transform="translate(-33.27 0) scale(0.01725 -0.01725)"/><use href="#g3" transform="translate(-24.87 0) scale(0.01725 -0.01725)"/><use href="#g9" transform="translate(-16.47 0) scale(0.01725 -0.01725)"/><use href="#g8" transform="translate(-8.07 0) scale(0.01725 -0.01725)"/></g><g transform="translate(1098.48 786.4) rotate(-45)"><use href="#g1" transform="translate(-33.27 0) scale(0.01725 -0.01725)"/><use href="#g3" transform="translate(-24.87 0) scale(0.01725 -0.01725)"/><use href="#g9" transform="translate(-16.47 0) scale(0.01725 -0.01725)"/><use href="#g9" transform="translate(-8.07 0) scale(0.01725 -0.01725)"/></g><g transform="translate(1130.27 786.4) rotate(-45)"><use href="#g1" transform="translate(-33.27 0) scale(0.01725 -0.01725)"/><use href="#g4" transform="translate(-24.87 0) scale(0.01725 -0.01725)"/><use href="#g0" transform="translate(-16.47 0) scale(0.01725 -0.01725)"/><use href="#g0" transform="translate(-8.07 0) scale(0.01725 -0.01725)"/></g><g transform="translate(1162.06 786.4) rotate(-45)"><use href="#g1" transform="translate(-33.27 0) scale(0.01725 -0.01725)"/><use href="#g4" transform="translate(-24.87 0) scale(0.01725 -0.01725)"/><use href="#g0" transform="translate(-16.47 0) scale(0.01725 -0.01725)"/><use href="#g1" transform="translate(-8.07 0) scale(0.01725 -0.01725)"/></g></g>
<g fill="#000" fill-rule="evenodd" stroke="#000" stroke-linejoin="round"><path vector-effect="non-scaling-stroke" stroke-width="0.2" transform="translate(783.22 43.7) scale(0.1120 0.1199)" d="M116 -3 111 -3 107 -60 102 -121 103 -126 107 -131 115 -135 123 -136 131 -112 125 -106 125 -64 124 -5 123 -4 116 -3ZM386 -95 380 -100 372 -107 372 -108 385 -121 398 -109 386 -95ZM359 -92 351 -99 345 -105 359 -118 371 -106 359 -92ZM43 -1 27 -1 20 -2 14 -4 10 -7 8 -10 7 -13 7 -20 8 -26 12 -32 25 -26 35 -24 49 -25 59 -27 65 -29 46 -60 43 -67 42 -70 43 -75 47 -82 54 -88 59 -90 76 -41 78 -35 77 -27 73 -14 70 -8 54 -3 43 -1ZM182 -1 172 -1 165 -2 155 -6 151 -12 151 -21 153 -27 156 -32 166 -27 175 -25 192 -25 206 -27 206 -29 195 -53 191 -65 190 -71 191 -77 194 -84 197 -87 203 -90 204 -90 212 -63 221 -40 225 -34 229 -29 232 -28 238 -26 267 -27 275 -28 267 -39 256 -50 252 -47 250 -50 247 -57 247 -63 250 -69 257 -75 273 -82 288 -84 298 -83 308 -79 315 -73 320 -64 322 -56 320 -46 314 -36 307 -28 311 -27 318 -26 350 -27 367 -29 378 -32 379 -32 378 -34 367 -56 365 -64 366 -69 370 -74 377 -80 382 -83 383 -83 389 -51 391 -37 389 -28 383 -14 377 -11 369 -8 355 -5 338 -3 325 -3 306 -6 296 -10 288 -15 278 -10 266 -6 255 -4 241 -3 229 -5 218 -11 199 -4 182 -1ZM292 -35 298 -41 301 -46 302 -52 300 -58 295 -61 289 -62 280 -61 270 -58 269 -57 290 -35 291 -34 292 -35Z"/><path vector-effect="non-scaling-stroke" stroke-width="0.2" transform="translate(724.94 43.7) scale(0.1183 0.1199)" d="M428 -1 412 -2 401 -4 378 -12 368 -5 362 -3 354 -3 341 -4 325 -8 313 -15 297 -8 280 -4 261 -3 255 -4 247 -7 238 -15 234 -24 233 -29 223 -123 239 -133 245 -136 246 -136 250 -32 254 -28 260 -27 269 -26 292 -27 300 -28 292 -38 281 -49 280 -50 277 -48 276 -48 273 -53 271 -60 273 -66 277 -72 287 -78 298 -82 313 -84 323 -83 334 -78 342 -70 346 -60 346 -52 342 -41 338 -35 332 -28 337 -26 358 -26 362 -27 369 -30 376 -37 387 -56 395 -66 399 -70 404 -73 412 -73 419 -70 427 -62 433 -51 438 -36 440 -28 439 -19 434 -8 428 -1ZM163 -1 147 -1 137 -3 133 -5 130 -8 128 -12 128 -21 131 -29 133 -32 146 -26 156 -24 171 -25 180 -27 186 -29 167 -60 163 -70 164 -76 166 -80 173 -87 179 -90 180 -89 196 -43 198 -35 198 -27 193 -12 191 -8 175 -3 163 -1ZM57 -51 56 -50 54 -52 41 -64 41 -65 56 -80 70 -66 57 -51ZM317 -35 323 -41 326 -47 326 -54 324 -58 320 -61 314 -62 304 -61 294 -58 294 -57 315 -35 317 -35ZM59 49 46 49 33 46 25 41 19 34 15 23 13 9 14 -1 18 -20 27 -18 24 -5 25 6 28 15 34 22 39 24 50 26 68 24 79 21 88 16 99 8 85 -19 82 -29 83 -36 87 -44 94 -50 102 -54 109 -8 109 7 107 15 101 26 97 31 90 37 77 44 65 48 59 49ZM421 -23 420 -30 416 -41 412 -47 408 -50 403 -49 400 -47 395 -40 390 -31 394 -29 404 -26 421 -23Z"/><path vector-effect="non-scaling-stroke" stroke-width="0.2" transform="translate(701.26 43.7) scale(0.0944 0.1199)" d="M118 -1 102 -1 92 -3 88 -5 83 -11 82 -16 83 -22 85 -29 88 -32 98 -27 110 -24 125 -25 135 -27 141 -29 121 -61 118 -70 119 -77 123 -83 128 -87 134 -90 151 -43 153 -35 153 -28 149 -15 146 -8 130 -3 118 -1ZM26 38 19 38 13 36 3 30 -7 22 -4 14 16 17 23 16 34 13 45 6 51 -2 55 -10 55 -13 37 -45 35 -51 34 -56 35 -61 38 -66 42 -71 50 -77 51 -75 65 -30 66 -18 65 -4 60 11 56 18 51 25 45 30 38 34 26 38Z"/><path vector-effect="non-scaling-stroke" stroke-width="0.2" transform="translate(658 43.7) scale(0.1155 0.1199)" d="M62 49 50 50 37 48 28 44 22 39 17 30 14 19 13 8 15 -6 18 -20 26 -18 27 -17 25 -9 24 -2 26 11 29 17 34 22 44 26 60 26 77 22 89 16 98 9 77 -116 78 -123 83 -130 91 -135 98 -136 106 -112 100 -107 100 -106 108 -19 109 1 108 10 105 19 101 26 92 36 79 44 73 46 62 49ZM208 -3 179 -3 166 -5 160 -8 155 -12 151 -17 149 -24 147 -33 137 -123 145 -128 160 -136 161 -136 161 -133 165 -32 168 -29 178 -26 209 -27 222 -29 247 -36 247 -37 232 -46 221 -50 209 -49 203 -47 195 -43 194 -43 192 -47 190 -54 190 -59 192 -63 195 -67 200 -70 206 -73 212 -74 223 -74 230 -72 236 -69 253 -59 271 -51 289 -47 302 -46 292 -25 273 -26 262 -24 252 -20 228 -8 219 -5 208 -3Z"/><path vector-effect="non-scaling-stroke" stroke-width="0.2" transform="translate(615.13 43.7) scale(0.1336 0.1199)" d="M221 38 209 38 202 36 196 34 190 29 185 23 179 11 177 4 171 6 168 -3 162 -3 151 -6 147 6 141 18 131 29 121 35 110 38 105 38 101 37 90 31 78 22 81 14 102 16 112 15 120 13 130 6 137 -4 141 -13 124 -42 120 -52 119 -57 121 -63 128 -72 134 -76 136 -76 150 -30 155 -28 161 -27 177 -26 178 -27 181 -37 187 -52 200 -73 215 -90 217 -90 224 -89 229 -57 231 -42 228 -33 222 -24 223 -24 230 -25 263 -28 278 -32 266 -57 264 -64 265 -68 269 -74 276 -80 282 -83 288 -54 290 -38 288 -27 283 -15 282 -13 275 -10 265 -6 255 -4 231 -1 238 6 240 12 240 15 234 32 228 36 221 38ZM46 -1 35 -1 25 -4 21 -8 17 -13 14 -21 14 -33 16 -41 21 -50 31 -62 27 -68 26 -73 28 -81 32 -86 44 -81 53 -75 59 -70 67 -59 73 -45 74 -37 73 -31 69 -20 64 -11 61 -7 56 -4 46 -1ZM195 -25 208 -29 214 -32 218 -35 210 -62 209 -62 207 -59 198 -43 195 -34 193 -25 195 -25ZM48 -22 57 -25 61 -27 61 -28 57 -36 53 -43 47 -50 40 -56 35 -51 31 -44 29 -39 29 -30 31 -26 36 -22 41 -22 48 -22ZM222 19 227 17 229 16 229 15 225 10 216 3 210 -0 203 -2 196 -2 193 -1 195 4 198 10 204 16 213 19 222 19ZM271 44 256 30 271 14 285 29 279 37 271 44Z"/><path vector-effect="non-scaling-stroke" stroke-width="0.2" transform="translate(550.78 43.7) scale(0.1231 0.1199)" d="M231 -3 226 -3 222 -67 217 -122 219 -127 223 -132 231 -135 238 -136 239 -135 247 -112 240 -106 240 -58 239 -5 238 -4 231 -3ZM302 -1 286 -1 276 -3 272 -5 267 -11 266 -16 267 -22 269 -29 272 -32 282 -27 294 -24 309 -25 319 -27 325 -29 305 -61 302 -70 303 -77 307 -83 312 -87 318 -90 335 -43 337 -35 337 -28 333 -15 330 -8 314 -3 302 -1ZM371 38 366 38 360 36 346 27 340 23 340 21 343 14 349 15 363 16 373 15 382 12 392 5 399 -5 402 -13 385 -43 381 -53 381 -59 385 -67 391 -73 397 -77 412 -30 417 -28 424 -26 445 -28 460 -32 448 -57 446 -64 447 -68 451 -74 458 -80 464 -83 470 -54 472 -38 470 -27 465 -14 453 -8 437 -4 424 -3 412 -6 409 5 406 12 397 25 391 30 383 35 371 38ZM57 49 46 49 33 46 24 40 19 33 15 23 13 8 14 -1 18 -20 20 -20 27 -18 24 -3 26 9 28 14 31 19 40 24 52 26 61 25 71 23 86 18 102 9 108 5 83 2 74 -1 68 -5 65 -8 62 -14 60 -25 61 -32 64 -42 71 -55 77 -64 84 -70 93 -76 102 -78 107 -77 112 -74 115 -69 117 -64 120 -53 111 -51 107 -54 103 -54 98 -53 92 -50 80 -40 75 -33 71 -25 81 -22 102 -18 112 -14 115 -10 118 -2 119 3 117 10 113 17 108 24 101 30 92 36 74 45 57 49ZM153 38 147 38 140 36 129 29 120 22 123 15 124 14 143 17 151 16 161 13 172 6 177 0 183 -12 165 -44 162 -52 161 -56 163 -62 166 -67 172 -73 178 -76 192 -31 194 -18 192 -3 190 4 185 15 176 27 165 35 153 38ZM453 44 438 30 453 14 467 29 461 37 453 44Z"/><path vector-effect="non-scaling-stroke" stroke-width="0.2" transform="translate(530.84 43.7) scale(0.1205 0.1199)" d="M104 -3 99 -3 95 -67 90 -122 92 -127 96 -132 104 -135 111 -136 112 -135 120 -112 113 -106 113 -58 112 -5 111 -4 104 -3ZM40 -89 33 -95 25 -103 25 -104 39 -119 53 -105 40 -89ZM26 38 19 38 13 36 3 30 -7 22 -4 14 16 17 23 16 34 13 45 6 51 -2 55 -10 55 -13 37 -45 35 -51 34 -56 35 -61 38 -66 42 -71 50 -77 51 -75 65 -30 66 -18 65 -4 60 11 56 18 51 25 45 30 38 34 26 38Z"/><path vector-effect="non-scaling-stroke" stroke-width="0.2" transform="translate(488.57 43.7) scale(0.1098 0.1199)" d="M62 49 50 50 37 48 28 44 22 39 17 30 14 19 13 8 15 -6 18 -20 26 -18 27 -17 25 -9 24 -2 26 11 29 17 34 22 44 26 60 26 77 22 89 16 98 9 77 -116 78 -123 83 -130 91 -135 98 -136 106 -112 100 -107 100 -106 108 -19 109 1 108 10 105 19 101 26 92 36 79 44 73 46 62 49ZM301 -1 279 -3 264 -7 254 -10 253 -10 250 -5 247 -4 240 -2 226 -0 217 -2 203 -7 186 -3 175 -3 166 -5 159 -8 151 -17 149 -24 147 -32 138 -119 138 -124 154 -133 160 -136 161 -136 165 -32 168 -29 171 -28 177 -26 187 -26 197 -29 202 -33 212 -48 216 -51 219 -52 225 -49 217 -27 216 -25 230 -24 240 -26 241 -27 243 -31 253 -55 256 -58 262 -59 265 -59 269 -57 260 -32 273 -27 297 -23 285 -49 283 -57 284 -61 288 -67 295 -73 300 -76 301 -76 307 -44 309 -29 306 -14 301 -1Z"/><path vector-effect="non-scaling-stroke" stroke-width="0.6" transform="translate(432.57 44.2) scale(0.1251 0.1310)" d="M358 -1 353 -1 347 -3 343 -6 340 -11 337 -5 332 -2 326 -1 317 -2 308 -10 303 -21 302 -36 304 -55 311 -74 322 -94 321 -100 321 -109 324 -119 328 -127 348 -106 359 -92 369 -76 376 -57 378 -46 379 -37 378 -27 376 -19 372 -11 369 -7 364 -3 358 -1ZM61 -1 50 -3 49 -27 45 -52 40 -68 29 -96 28 -104 31 -110 37 -116 43 -120 44 -119 49 -109 55 -95 60 -79 64 -60 66 -41 65 -23 62 -2 61 -1ZM139 -1 128 -3 126 -32 123 -49 118 -67 107 -94 106 -100 107 -106 112 -114 121 -120 122 -119 125 -113 134 -93 137 -92 143 -92 148 -95 150 -100 150 -116 151 -117 157 -119 161 -108 163 -97 165 -96 169 -96 173 -99 175 -104 175 -119 176 -120 184 -119 185 -118 186 -109 186 -94 183 -83 179 -76 174 -73 169 -72 159 -75 152 -69 141 -66 143 -49 144 -30 141 -10 139 -1ZM215 -3 214 -4 207 -15 220 -37 230 -52 217 -61 212 -67 209 -75 209 -83 210 -89 216 -103 225 -114 235 -118 240 -119 246 -118 251 -116 255 -113 268 -100 263 -92 252 -95 242 -96 234 -95 226 -92 222 -90 224 -85 227 -80 231 -75 236 -73 250 -71 268 -82 280 -88 281 -86 282 -78 281 -70 277 -63 250 -42 236 -30 227 -19 215 -3ZM358 -25 363 -27 366 -33 366 -41 364 -48 359 -57 352 -66 343 -76 333 -84 323 -70 316 -55 314 -47 313 -41 315 -32 318 -27 321 -26 326 -25 330 -26 333 -29 336 -39 344 -43 345 -42 346 -33 349 -27 353 -25 358 -25Z"/><path vector-effect="non-scaling-stroke" stroke-width="0.2" transform="translate(412.84 43.7) scale(0.0973 0.1199)" d="M66 -3 53 -3 44 -5 39 -7 31 -14 26 -25 24 -37 15 -123 26 -130 38 -136 41 -57 42 -33 43 -31 49 -27 61 -26 87 -28 106 -32 94 -56 92 -64 93 -69 98 -75 109 -83 110 -82 116 -51 118 -38 116 -28 110 -14 96 -8 82 -5 66 -3ZM113 -95 107 -100 99 -107 99 -108 112 -121 125 -109 113 -95ZM86 -92 78 -99 72 -105 86 -118 98 -106 86 -92Z"/><path vector-effect="non-scaling-stroke" stroke-width="0.6" transform="translate(368.17 44.2) scale(0.1148 0.1310)" d="M137 -0 128 -2 126 -3 124 -30 120 -54 115 -69 106 -91 104 -98 104 -103 105 -107 108 -112 114 -117 119 -120 127 -104 133 -87 135 -86 142 -85 143 -85 139 -92 138 -96 139 -102 141 -109 144 -115 150 -120 154 -122 161 -123 166 -121 171 -117 175 -112 178 -106 173 -101 163 -104 154 -103 150 -101 152 -95 157 -90 163 -88 171 -90 181 -95 183 -89 183 -83 182 -79 179 -75 170 -69 153 -65 139 -65 141 -47 141 -29 139 -10 137 -0ZM61 -1 50 -3 49 -27 45 -52 40 -68 29 -96 28 -104 31 -110 37 -116 43 -120 44 -119 49 -109 55 -95 60 -79 64 -60 66 -41 65 -23 62 -2 61 -1Z"/><path d="M395.4 34.7L398.05 37.35L395.4 40L392.75 37.35Z"/><path d="M403.8 34.75L406.45 37.4L403.8 40.05L401.15 37.4Z"/></g>
</svg></body></html>
